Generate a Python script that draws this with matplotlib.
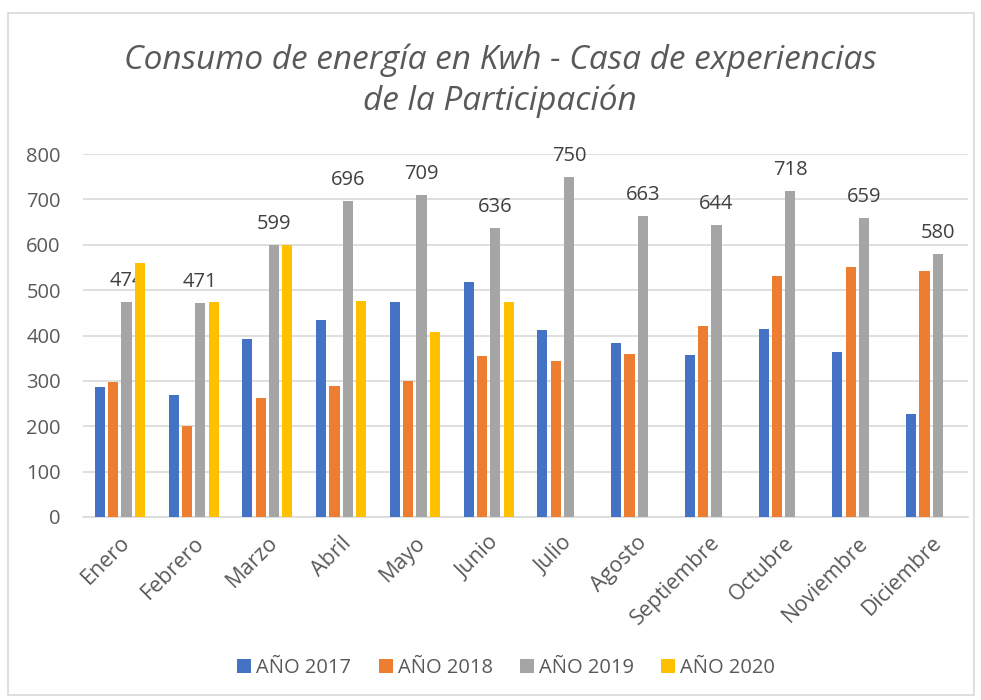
import numpy as np
import matplotlib.pyplot as plt
from matplotlib.patches import Rectangle

plt.rcParams["font.family"] = ["Open Sans", "DejaVu Sans"]

meses = ["Enero", "Febrero", "Marzo", "Abril", "Mayo", "Junio", "Julio",
         "Agosto", "Septiembre", "Octubre", "Noviembre", "Diciembre"]
series = ["AÑO 2017", "AÑO 2018", "AÑO 2019", "AÑO 2020"]

v2017 = [287, 268, 393, 435, 473, 518, 412, 384, 358, 415, 364, 226]
v2018 = [297, 201, 262, 289, 300, 354, 344, 360, 420, 532, 551, 543]
v2019 = [474, 471, 599, 696, 709, 636, 750, 663, 644, 718, 659, 580]
v2020 = [559, 474, 600, 477, 407, 473, None, None, None, None, None, None]

colores = ["#4472C4", "#ED7D31", "#A5A5A5", "#FFC000"]
gris_texto = "#595959"

fig = plt.figure(figsize=(9.81, 7.0), dpi=100)
# borde del area del grafico (como en Excel)
fig.patches.append(Rectangle((8 / 981, 5 / 700), 966 / 981, 682 / 700,
                             transform=fig.transFigure, fill=False,
                             edgecolor="#D9D9D9", linewidth=1.2))

ax = fig.add_axes([83 / 981, 1 - 517 / 700, 885 / 981, 363 / 700])

x = np.arange(len(meses))
paso = 0.18
ancho = 0.136
datos = [v2017, v2018, v2019, v2020]
for i, (vals, nombre, col) in enumerate(zip(datos, series, colores)):
    pos = x + (i - 1.5) * paso
    h = [np.nan if v is None else v for v in vals]
    ax.bar(pos, h, width=ancho, color=col, label=nombre, zorder=3)
    if nombre == "AÑO 2019":
        for xp, v in zip(pos, vals):
            ax.annotate(str(v), (xp, v), xytext=(0, 8), textcoords="offset points",
                        ha="center", va="bottom", fontsize=14.5, color="#404040")

ax.set_xlim(-0.5, len(meses) - 0.5)
ax.set_ylim(0, 800)
ax.set_yticks(range(0, 801, 100))
ax.yaxis.grid(True, color="#D9D9D9", linewidth=1.2, zorder=0)
ax.set_axisbelow(True)
for s in ["top", "right", "left"]:
    ax.spines[s].set_visible(False)
ax.spines["bottom"].set_color("#D9D9D9")
ax.spines["bottom"].set_linewidth(1.2)
ax.tick_params(axis="both", length=0, labelcolor=gris_texto)
ax.tick_params(axis="y", pad=16, labelsize=14.5)
ax.set_xticks(x)
ax.set_xticklabels(meses, rotation=45, ha="right", rotation_mode="anchor")
ax.tick_params(axis="x", pad=11, labelsize=15.5)

fig.text(0.51, 1 - 60 / 700, "Consumo de energía en Kwh - Casa de experiencias",
         ha="center", va="center", fontsize=24, style="italic", color=gris_texto)
fig.text(0.51, 1 - 101 / 700, "de la Participación",
         ha="center", va="center", fontsize=24, style="italic", color=gris_texto)

fig.legend(loc="center", bbox_to_anchor=(0.516, 1 - 668 / 700), ncol=4,
           frameon=False, fontsize=14.5, labelcolor=gris_texto,
           handlelength=0.7, handleheight=0.65, handletextpad=0.25,
           columnspacing=1.35)

fig.savefig("out.png", dpi=100)
